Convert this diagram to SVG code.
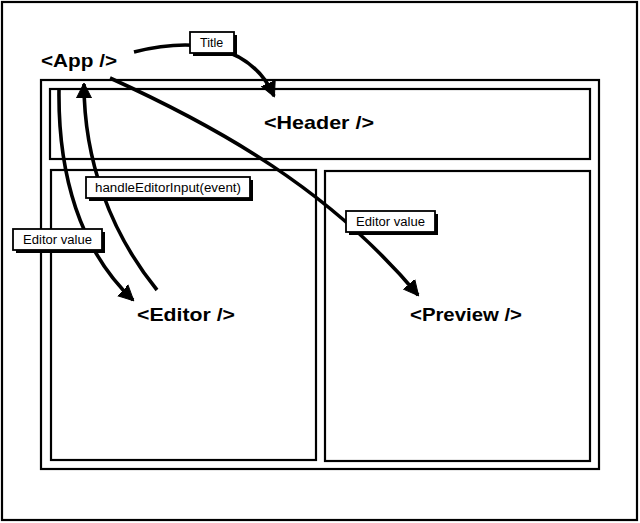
<svg xmlns="http://www.w3.org/2000/svg" width="640" height="523" viewBox="0 0 640 523">
<style>
.frame{fill:#fff;stroke:#000;stroke-width:2.2}
.big{font-family:"Liberation Sans",Arial,sans-serif;font-size:19px;font-weight:bold;fill:#000}
.lbl{font-family:"Liberation Sans",Arial,sans-serif;font-size:12.5px;fill:#000}
.lbox{fill:#fff;stroke:#000;stroke-width:1.8}
.shadow{fill:#000}
.conn{fill:none;stroke:#000;stroke-width:3.6;stroke-linecap:butt}
</style>
<defs>
<marker id="ah" markerUnits="userSpaceOnUse" markerWidth="20" markerHeight="20" viewBox="0 0 20 20" refX="14" refY="10" orient="auto">
<path d="M0,2.5 L15,10 L0,17.5 Z" fill="#000" stroke="#000" stroke-width="1" stroke-linejoin="round"/>
</marker>
</defs>
<rect x="0" y="0" width="640" height="523" fill="#fff"/>
<g id="outer"><rect class="frame" x="2" y="2" width="635" height="518"/></g>
<g id="app">
<rect class="frame" x="41" y="80" width="558" height="389"/>
<text class="big" x="41" y="67" textLength="76" lengthAdjust="spacingAndGlyphs">&lt;App /&gt;</text>
</g>
<g id="header">
<rect class="frame" x="50" y="89" width="540" height="70"/>
<text class="big" x="264" y="129" textLength="110" lengthAdjust="spacingAndGlyphs">&lt;Header /&gt;</text>
</g>
<g id="editor">
<rect class="frame" x="51" y="170" width="265" height="290"/>
<text class="big" x="137" y="321" textLength="98" lengthAdjust="spacingAndGlyphs">&lt;Editor /&gt;</text>
</g>
<g id="preview">
<rect class="frame" x="325" y="171" width="265" height="290"/>
<text class="big" x="410" y="321" textLength="112" lengthAdjust="spacingAndGlyphs">&lt;Preview /&gt;</text>
</g>
<g id="connectors">
<path class="conn" d="M134,52 C190,38 250,42 274,96" marker-end="url(#ah)"/>
<path class="conn" d="M110,78 C220,128 330,190 418,295" marker-end="url(#ah)"/>
<path class="conn" d="M59,90 C58,175 80,250 133,300" marker-end="url(#ah)"/>
<path class="conn" d="M157,290 C110,232 84,160 84,84" marker-end="url(#ah)"/>
</g>
<g id="label-title">
<rect class="shadow" x="193" y="35" width="44" height="21"/>
<rect class="lbox" x="190" y="32" width="44" height="21"/>
<text class="lbl" x="200" y="47">Title</text>
</g>
<g id="label-handle">
<rect class="shadow" x="89" y="180" width="164" height="21"/>
<rect class="lbox" x="86" y="177" width="164" height="21"/>
<text class="lbl" x="95" y="192" textLength="146" lengthAdjust="spacingAndGlyphs">handleEditorInput(event)</text>
</g>
<g id="label-editor-value-left">
<rect class="shadow" x="16" y="232" width="89" height="21"/>
<rect class="lbox" x="13" y="229" width="89" height="21"/>
<text class="lbl" x="23" y="244" textLength="69" lengthAdjust="spacingAndGlyphs">Editor value</text>
</g>
<g id="label-editor-value-right">
<rect class="shadow" x="349" y="214" width="89" height="21"/>
<rect class="lbox" x="346" y="211" width="89" height="21"/>
<text class="lbl" x="356" y="226" textLength="69" lengthAdjust="spacingAndGlyphs">Editor value</text>
</g>
</svg>
